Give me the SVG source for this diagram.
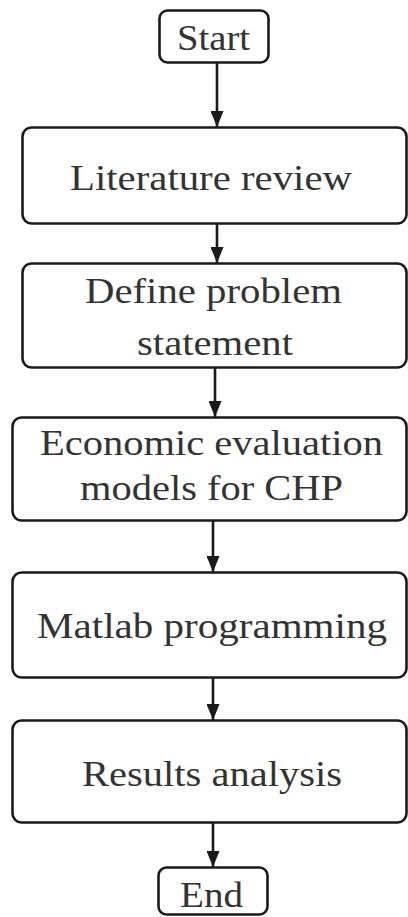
<svg xmlns="http://www.w3.org/2000/svg" width="408" height="917" viewBox="0 0 408 917">
<style>
.box{fill:#fff;stroke:#1a1a1a;stroke-width:2.6}
.t{font-family:"Liberation Serif","DejaVu Serif",serif;font-size:35px;fill:#333;text-anchor:middle}
.c{stroke:#1a1a1a;stroke-width:2.6;fill:none}
</style>
<defs>
<marker id="ah" markerWidth="16" markerHeight="13" refX="16" refY="6.5" orient="auto" markerUnits="userSpaceOnUse">
<path d="M0,0 L16,6.5 L0,13 Z" fill="#1a1a1a"/>
</marker>
</defs>
<rect width="408" height="917" fill="#fff"/>
<g id="connectors">
<line class="c" x1="217" y1="63" x2="217" y2="127" marker-end="url(#ah)"/>
<line class="c" x1="217" y1="224" x2="217" y2="263" marker-end="url(#ah)"/>
<line class="c" x1="215" y1="368" x2="215" y2="417" marker-end="url(#ah)"/>
<line class="c" x1="213" y1="521" x2="213" y2="572" marker-end="url(#ah)"/>
<line class="c" x1="213" y1="678" x2="213" y2="720" marker-end="url(#ah)"/>
<line class="c" x1="213" y1="823" x2="213" y2="867" marker-end="url(#ah)"/>
</g>
<g id="start">
<rect class="box" x="159.5" y="10.5" width="109" height="52" rx="8"/>
<text class="t" x="213.5" y="50" textLength="73" lengthAdjust="spacingAndGlyphs">Start</text>
</g>
<g id="literature">
<rect class="box" x="22.5" y="127.5" width="384" height="96" rx="9"/>
<text class="t" x="211" y="190" textLength="282" lengthAdjust="spacingAndGlyphs">Literature review</text>
</g>
<g id="define">
<rect class="box" x="22.5" y="263.5" width="384" height="104" rx="9"/>
<text class="t" x="213.5" y="303" textLength="257" lengthAdjust="spacingAndGlyphs">Define problem</text>
<text class="t" x="215" y="355" textLength="156" lengthAdjust="spacingAndGlyphs">statement</text>
</g>
<g id="economic">
<rect class="box" x="12.5" y="417.5" width="394" height="103" rx="9"/>
<text class="t" x="211.5" y="455" textLength="343" lengthAdjust="spacingAndGlyphs">Economic evaluation</text>
<text class="t" x="211.5" y="500" textLength="263" lengthAdjust="spacingAndGlyphs">models for CHP</text>
</g>
<g id="matlab">
<rect class="box" x="12.5" y="572.5" width="394" height="105" rx="9"/>
<text class="t" x="212" y="638" textLength="350" lengthAdjust="spacingAndGlyphs">Matlab programming</text>
</g>
<g id="results">
<rect class="box" x="12.5" y="720.5" width="394" height="102" rx="9"/>
<text class="t" x="212" y="786" textLength="260" lengthAdjust="spacingAndGlyphs">Results analysis</text>
</g>
<g id="end">
<rect class="box" x="158.5" y="867.5" width="109" height="47" rx="8"/>
<text class="t" x="211.5" y="907" textLength="63" lengthAdjust="spacingAndGlyphs">End</text>
</g>
</svg>
